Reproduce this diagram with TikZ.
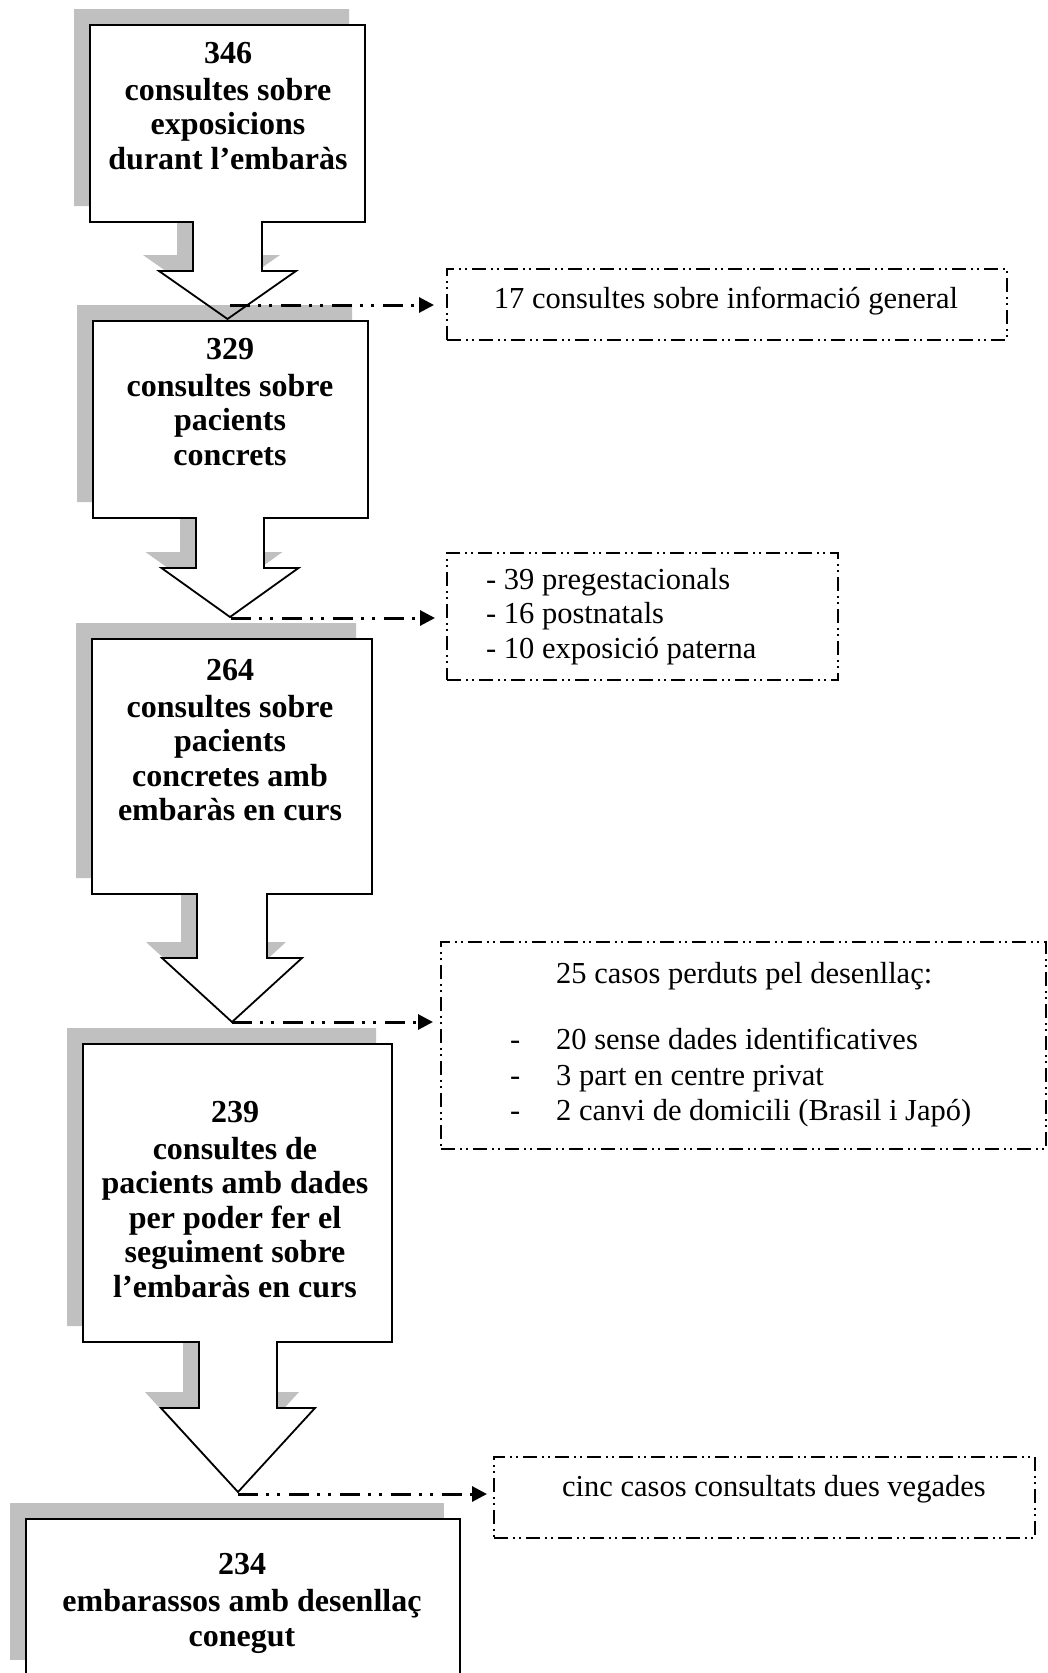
\documentclass[tikz,border=0pt]{standalone}
\usepackage{fontspec}
\setmainfont{Liberation Serif}
\usetikzlibrary{arrows.meta}
\definecolor{shadowgray}{HTML}{C0C0C0}
% L, T, R, B, stem left, stem right, head base, barb overhang, tip y
\newcommand{\calloutpath}[9]{(#1,#2) -- (#3,#2) -- (#3,#4) -- (#6,#4) -- (#6,#7) -- ({#6+#8},#7) -- ({(#5+#6)/2},#9) -- ({#5-#8},#7) -- (#5,#7) -- (#5,#4) -- (#1,#4) -- cycle}
\begin{document}
\begin{tikzpicture}[x=1pt,y=-1pt,
  shadowfill/.style={fill=shadowgray,shift={(-16,-16)}},
  whitefill/.style={fill=white},
  boxline/.style={draw=black,line width=1.8pt,line join=miter},
  sidebox/.style={draw=black,line width=1.7pt,dash pattern=on 14pt off 5pt on 2pt off 4pt on 2pt off 5pt,inner sep=0pt,anchor=north west},
  flow/.style={draw=black,line width=3pt,dash pattern=on 20pt off 8pt on 3pt off 8pt on 3pt off 9pt,-{Triangle[length=15pt,width=15pt]}},
  maintext/.style={align=center,font=\fontsize{32}{34.5}\selectfont\bfseries,inner sep=0pt},
  sidetext/.style={align=left,font=\fontsize{30.5}{34.2}\selectfont,inner sep=0pt}]
\useasboundingbox (0,0) rectangle (1048,1673);
\clip (0,0) rectangle (1048,1673);
\fill[white] (0,0) rectangle (1048,1673);
% shadows and fills
\fill[shadowfill] \calloutpath{90}{25}{365}{222}{193}{262}{271}{34}{319};
\fill[whitefill] \calloutpath{90}{25}{365}{222}{193}{262}{271}{34}{319};
\fill[shadowfill] \calloutpath{93}{321}{368}{518}{196}{264}{568}{34.5}{617};
\fill[whitefill] \calloutpath{93}{321}{368}{518}{196}{264}{568}{34.5}{617};
\fill[shadowfill] \calloutpath{92}{639}{372}{894}{197}{267}{958}{35}{1022};
\fill[whitefill] \calloutpath{92}{639}{372}{894}{197}{267}{958}{35}{1022};
\fill[shadowfill] \calloutpath{83}{1044}{392}{1342}{199}{277}{1408}{38}{1492};
\fill[whitefill] \calloutpath{83}{1044}{392}{1342}{199}{277}{1408}{38}{1492};
\fill[shadowfill] (26,1519) rectangle (460,1676);
\fill[whitefill] (26,1519) rectangle (460,1676);
% outlines
\draw[boxline] \calloutpath{90}{25}{365}{222}{193}{262}{271}{34}{319};
\draw[boxline] \calloutpath{93}{321}{368}{518}{196}{264}{568}{34.5}{617};
\draw[boxline] \calloutpath{92}{639}{372}{894}{197}{267}{958}{35}{1022};
\draw[boxline] \calloutpath{83}{1044}{392}{1342}{199}{277}{1408}{38}{1492};
\draw[boxline] (26,1519) rectangle (460,1676);
% main texts
\node[maintext] (t1) at (228,105.8) {346\\[2.5pt]consultes sobre\\exposicions\\durant l’embaràs};
\node[maintext] (t2) at (230,401.9) {329\\[2.5pt]consultes sobre\\pacients\\concrets};
\node[maintext] (t3) at (230,740.1) {264\\[2.5pt]consultes sobre\\pacients\\concretes amb\\embaràs en curs};
\node[maintext] (t4) at (235,1199.3) {239\\[2.5pt]consultes de\\pacients amb dades\\per poder fer el\\seguiment sobre\\l’embaràs en curs};
\node[maintext] (t5) at (242,1603.6) {234\\[2.5pt]embarassos amb desenllaç\\conegut};
% side boxes
\node[sidebox,minimum width=560pt,minimum height=71pt] (s1) at (446,268) {};
\node[sidebox,minimum width=391pt,minimum height=127pt] (s2) at (446,552) {};
\node[sidebox,minimum width=605pt,minimum height=207pt] (s3) at (440,941) {};
\node[sidebox,minimum width=541pt,minimum height=81pt] (s4) at (493,1456) {};
% side texts
\node[sidetext] (l1) at (726,301) {17 consultes sobre informació general};
\node[sidetext,anchor=west] (l2) at (486,616.6) {- 39 pregestacionals\\- 16 postnatals\\- 10 exposició paterna};
\node[sidetext,anchor=west] (l3h) at (556,976) {25 casos perduts pel desenllaç:};
\node[sidetext,anchor=west,font=\fontsize{30.5}{35.5}\selectfont] (l3) at (556,1077.5) {\llap{-\hspace{36pt}}20 sense dades identificatives\\\llap{-\hspace{36pt}}3 part en centre privat\\\llap{-\hspace{36pt}}2 canvi de domicili (Brasil i Japó)};
\node[sidetext,anchor=west] (l4) at (562,1489) {cinc casos consultats dues vegades};
% flows
\coordinate (f1s) at (230,305); \coordinate (f1e) at (434,305);
\coordinate (f2s) at (231,618); \coordinate (f2e) at (435,618);
\coordinate (f3s) at (232,1022); \coordinate (f3e) at (433,1022);
\coordinate (f4s) at (238,1494); \coordinate (f4e) at (487,1494);
\draw[flow] (f1s) -- (f1e);
\draw[flow] (f2s) -- (f2e);
\draw[flow] (f3s) -- (f3e);
\draw[flow] (f4s) -- (f4e);
\end{tikzpicture}
\end{document}
